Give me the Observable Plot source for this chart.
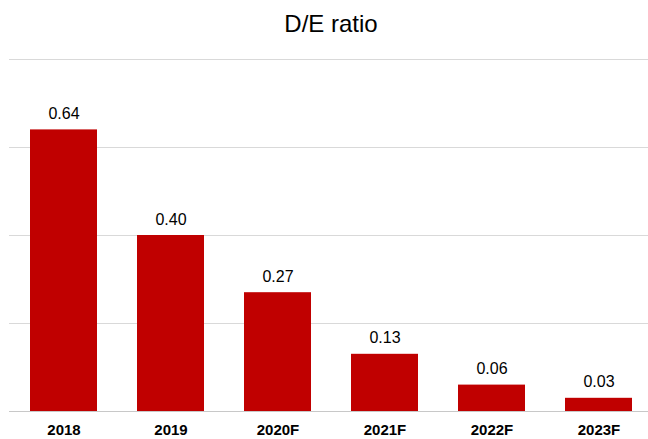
<!DOCTYPE html>
<html>
<head>
<meta charset="utf-8">
<script src="https://cdn.jsdelivr.net/npm/d3@7"></script>
<script src="https://cdn.jsdelivr.net/npm/@observablehq/plot@0.6"></script>
<style>
  body { margin: 0; background: #fff; font-family: "Liberation Sans", Arial, sans-serif; }
  #title { height: 40px; line-height: 48px; text-align: center; font-size: 24px; color: #000; padding-left: 14px; box-sizing: border-box; width: 648px; }
</style>
</head>
<body>
<div id="title">D/E ratio</div>
<div id="chart"></div>
<script>
const years = ["2018", "2019", "2020F", "2021F", "2022F", "2023F"];
const ratios = [0.64, 0.40, 0.27, 0.13, 0.06, 0.03];
const labels = ["0.64", "0.40", "0.27", "0.13", "0.06", "0.03"];
const gridTicks = [0.2, 0.4, 0.6, 0.8];

const data = years.map((y, i) => ({year: y, value: ratios[i], label: labels[i]}));

const chart = Plot.plot({
  width: 648,
  height: 399,
  marginTop: 19,
  marginBottom: 28,
  marginLeft: 9,
  marginRight: 0,
  style: {fontFamily: "Liberation Sans, Arial, sans-serif", background: "#fff"},
  x: {domain: years, range: [9, 654], paddingInner: 0.37, paddingOuter: 0.185, label: null},
  y: {domain: [0, 0.8], axis: null},
  marks: [
    Plot.ruleY(gridTicks, {stroke: "#d9d9d9", strokeWidth: 1}),
    Plot.barY(data, {x: "year", y: "value", fill: "#c00000"}),
    Plot.ruleY([0], {stroke: "#c8c8c8", strokeWidth: 1}),
    Plot.text(data, {x: "year", y: "value", text: "label", dy: -16, fontSize: 16, fill: "#000"}),
    Plot.axisX({tickSize: 0, tickPadding: 13, fontSize: 15, fontWeight: "bold", fill: "#000", label: null})
  ]
});
document.getElementById("chart").appendChild(chart);
</script>
</body>
</html>
